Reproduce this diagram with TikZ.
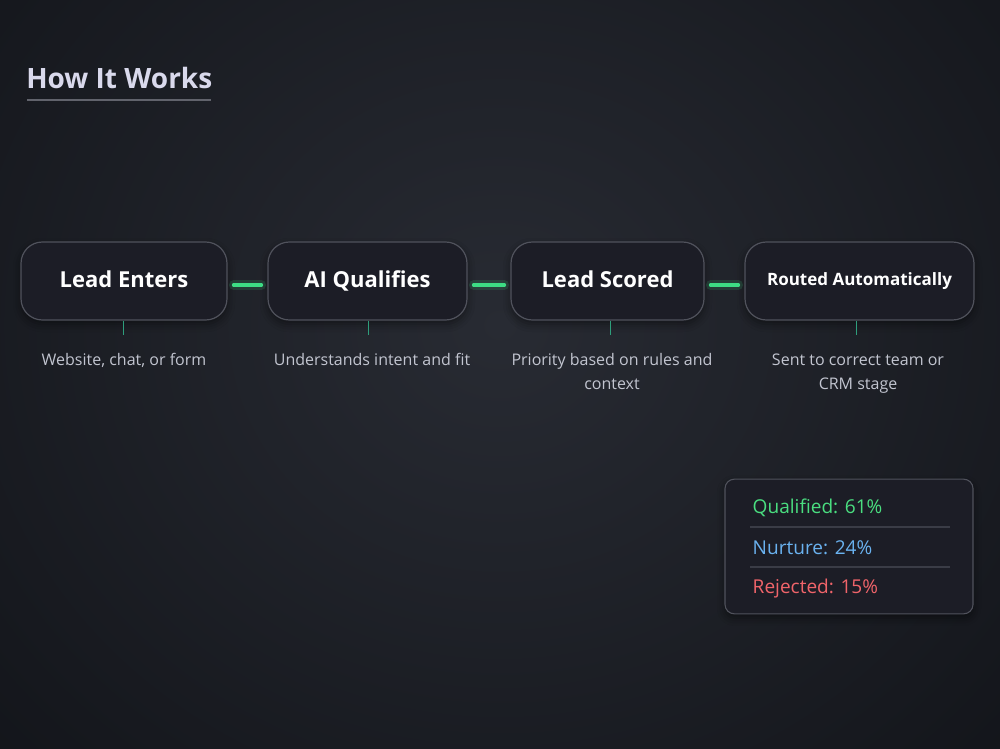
\documentclass[tikz,border=0pt]{standalone}
\usepackage{fontspec}
\setmainfont{Open Sans}
\usetikzlibrary{shadows.blur}
\definecolor{bgmid}{HTML}{282B33}
\definecolor{bgedge}{HTML}{101217}
\definecolor{boxfill}{HTML}{1C1D26}
\definecolor{boxline}{HTML}{50525C}
\definecolor{glow}{HTML}{3DDC84}
\definecolor{tick}{HTML}{2E9E7C}
\definecolor{desc}{HTML}{C2C5D0}
\definecolor{titlec}{HTML}{D9D9EC}
\definecolor{qgreen}{HTML}{4ADE80}
\definecolor{nblue}{HTML}{6AB2F0}
\definecolor{rred}{HTML}{F0646A}
\definecolor{sepc}{HTML}{3A3C46}
\tikzset{
  stepbox/.style={draw=boxline, line width=0.9pt, fill=boxfill, rounded corners=16pt,
    minimum height=58.5pt, text=white, font=\bfseries\fontsize{16.5}{19}\selectfont,
    text height=12pt, text depth=3pt,
    blur shadow={shadow xshift=0pt, shadow yshift=-3pt, shadow blur radius=6pt, shadow opacity=45}},
  desctext/.style={text=desc, font=\fontsize{12}{18}\selectfont, align=center},
  glowbar/.style={glow, line width=2.6pt, line cap=round},
  glowhalo/.style={glow, line width=7pt, line cap=round, opacity=0.15},
  tickline/.style={tick, line width=0.8pt},
  legendtext/.style={font=\fontsize{14.3}{16}\selectfont, anchor=west}
}
\begin{document}
\begin{tikzpicture}[x=0.75pt,y=-0.75pt]
\useasboundingbox (0,0) rectangle (1000,749);
\shade[inner color=bgmid, outer color=bgedge] (-300,-400) rectangle (1300,1050);
% title
\node[anchor=base west, inner sep=0, text=titlec, font=\bfseries\fontsize{21}{24}\selectfont] (title) at (26,89) {How It Works};
\draw[color=boxline!90, line width=0.9pt] (27,100) -- (211,100);
% boxes
\node[stepbox, minimum width=154.5pt] (b1) at (124,281) {Lead Enters};
\node[stepbox, minimum width=149.25pt] (b2) at (367.5,281) {AI Qualifies};
\node[stepbox, minimum width=144.75pt] (b3) at (607.5,281) {Lead Scored};
\node[stepbox, minimum width=171.75pt, font=\bfseries\fontsize{12.75}{15}\selectfont, text height=9.5pt, text depth=2.5pt] (b4) at (859.5,281) {Routed Automatically};
% connectors
\foreach \a/\b in {b1/b2,b2/b3,b3/b4}{
  \draw[glowhalo] ([xshift=4.5pt,yshift=-3pt]\a.east) -- ([xshift=-4.5pt,yshift=-3pt]\b.west);
  \draw[glowbar] ([xshift=4.5pt,yshift=-3pt]\a.east) -- ([xshift=-4.5pt,yshift=-3pt]\b.west);
}
% ticks and descriptions
\node[desctext, anchor=north] (d1) at (124,349) {Website, chat, or form};
\node[desctext, anchor=north] (d2) at (372,349) {Understands intent and fit};
\node[desctext, anchor=north] (d3) at (612,349) {Priority based on rules and\\context};
\node[desctext, anchor=north] (d4) at (858,349) {Sent to correct team or\\CRM stage};
\draw[tickline] ([xshift=-0.5pt]b1.south) -- ++(0,-11pt);
\draw[tickline] ([xshift=1pt]b2.south) -- ++(0,-11pt);
\draw[tickline] ([xshift=2.5pt]b3.south) -- ++(0,-11pt);
\draw[tickline] ([xshift=-2.5pt]b4.south) -- ++(0,-11pt);
% legend
\node[draw=boxline, line width=0.8pt, fill=boxfill, rounded corners=7pt, minimum width=186pt, minimum height=101pt,
  blur shadow={shadow xshift=0pt, shadow yshift=-3pt, shadow blur radius=6pt, shadow opacity=45}] (legend) at (849,546.5) {};
\draw[sepc, line width=0.8pt] (750,527) -- (950,527);
\draw[sepc, line width=0.8pt] (750,567) -- (950,567);
\node[legendtext, text=qgreen] (q) at (748,508) {Qualified: 61\%};
\node[legendtext, text=nblue] (n) at (748,548) {Nurture: 24\%};
\node[legendtext, text=rred] (r) at (748,589) {Rejected: 15\%};
\end{tikzpicture}
\end{document}
